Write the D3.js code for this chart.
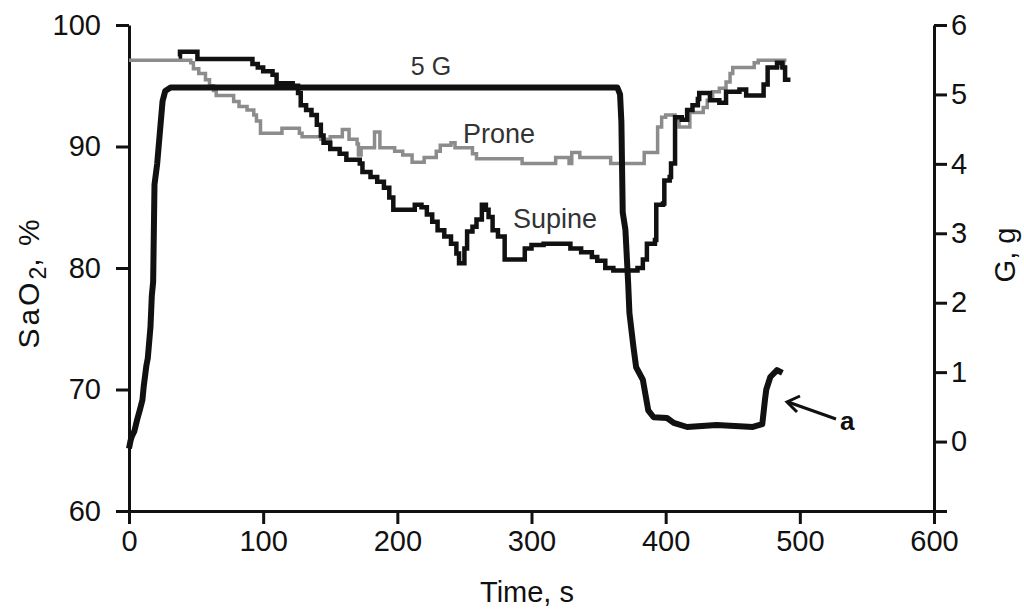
<!DOCTYPE html>
<html>
<head>
<meta charset="utf-8">
<script src="https://cdn.jsdelivr.net/npm/d3@7"></script>
<style>
  body { margin: 0; background: #fff; }
  svg { display: block; font-family: "Liberation Sans", Arial, sans-serif; }
  .axis path, .axis line { stroke: #111; stroke-width: 3; }
  .axis text { font-size: 29px; fill: #111; font-family: "Liberation Sans", Arial, sans-serif; }
</style>
</head>
<body>
<div class="chart"></div>
<script>
var svgWidth = 1024;
var svgHeight = 613;

var margin = { top: 25, right: 90, bottom: 102, left: 129 };
var width = svgWidth - margin.left - margin.right;
var height = svgHeight - margin.top - margin.bottom;

// G load (right axis), [time s, G]
var gTime = [0, 1, 2, 4, 6, 8, 10, 11, 13, 14, 16, 17, 18, 19, 21, 23, 25, 27, 31, 364, 366, 367, 368, 370, 372, 373, 376, 378, 383, 387, 391, 401, 406, 416, 438, 465, 472, 474, 475, 478, 483, 487];
var gValue = [-0.1, 0.0, 0.07, 0.15, 0.31, 0.45, 0.6, 0.8, 1.1, 1.2, 1.65, 2.1, 2.3, 3.7, 4.0, 4.45, 4.9, 5.05, 5.1, 5.1, 5.0, 4.6, 3.3, 3.05, 2.3, 1.85, 1.36, 1.07, 0.89, 0.45, 0.35, 0.34, 0.27, 0.21, 0.24, 0.21, 0.25, 0.6, 0.75, 0.93, 1.03, 0.99];

// SaO2 supine (left axis), step values
var supineTime = [37, 38, 51, 92, 96, 100, 107, 110, 122, 126, 128, 132, 136, 140, 143, 145, 150, 157, 162, 172, 174, 180, 185, 190, 194, 197, 213, 218, 222, 226, 230, 235, 240, 244, 246, 250, 252, 256, 259, 263, 266, 268, 271, 275, 280, 295, 300, 309, 329, 337, 345, 349, 355, 361, 379, 383, 386, 392, 393, 398, 399, 403, 404, 407, 412, 416, 420, 424, 425, 433, 440, 445, 455, 460, 473, 476, 483, 487, 489, 493];
var supineValue = [97.4, 97.8, 97.2, 96.8, 96.5, 96.2, 95.9, 95.2, 95.0, 94.4, 93.4, 93.0, 92.6, 91.8, 90.9, 90.3, 89.8, 89.4, 88.9, 88.6, 87.9, 87.5, 87.1, 86.6, 85.8, 84.8, 85.2, 85.0, 84.4, 83.8, 83.1, 82.6, 82.0, 81.2, 80.4, 81.6, 83.0, 83.4, 84.0, 85.2, 84.8, 84.2, 83.1, 82.6, 80.7, 81.6, 81.9, 82.0, 81.6, 81.3, 80.9, 80.6, 80.0, 79.8, 80.0, 80.7, 82.0, 82.3, 85.2, 85.3, 87.2, 87.5, 88.6, 92.4, 92.2, 93.0, 93.4, 93.9, 94.4, 93.8, 93.6, 94.5, 94.7, 94.2, 95.1, 96.5, 96.9, 96.5, 95.5, 95.5];

// SaO2 prone (left axis), step values
var proneTime = [0, 46, 48, 52, 57, 60, 63, 65, 78, 82, 88, 93, 95, 98, 114, 127, 129, 143, 150, 159, 164, 170, 171, 173, 183, 187, 198, 204, 211, 220, 229, 232, 240, 243, 256, 259, 293, 318, 328, 330, 336, 359, 384, 394, 397, 400, 407, 410, 418, 428, 431, 435, 440, 445, 448, 450, 466, 469, 486, 488, 490];
var proneValue = [97.1, 96.9, 96.4, 96.0, 95.5, 95.0, 94.6, 94.2, 93.7, 93.3, 93.0, 92.6, 92.1, 91.1, 91.5, 91.1, 90.8, 90.6, 90.8, 91.4, 90.6, 90.2, 89.3, 89.9, 91.2, 89.9, 89.6, 89.3, 88.7, 89.1, 89.6, 90.1, 90.3, 89.9, 89.4, 89.0, 88.6, 89.1, 88.6, 89.5, 89.1, 88.6, 89.5, 91.6, 92.4, 92.6, 92.2, 91.6, 92.8, 93.2, 93.8, 94.5, 94.8, 95.3, 96.0, 96.5, 96.9, 97.1, 96.6, 97.1, 97.1];

var xTicks = [0, 100, 200, 300, 400, 500, 600];
var yTicks = [60, 70, 80, 90, 100];
var gTicks = [-1, 0, 1, 2, 3, 4, 5, 6];

var svg = d3.select(".chart")
  .append("svg")
  .attr("width", svgWidth)
  .attr("height", svgHeight);

var chartGroup = svg.append("g")
  .attr("transform", `translate(${margin.left}, ${margin.top})`);

var xScale = d3.scaleLinear().domain([0, 600]).range([0, width]);
var yScale = d3.scaleLinear().domain([60, 100]).range([height, 0]);
var gScale = d3.scaleLinear().domain([-1, 6]).range([height, 0]);

// axes
var bottomAxis = d3.axisBottom(xScale).tickValues(xTicks).tickSize(13).tickPadding(6).tickSizeOuter(0);
var leftAxis = d3.axisLeft(yScale).tickValues(yTicks).tickSize(13).tickPadding(15).tickSizeOuter(0);
var rightAxis = d3.axisRight(gScale).tickValues(gTicks).tickSize(13).tickPadding(4).tickSizeOuter(0)
  .tickFormat(d => d < 0 ? "" : d);

chartGroup.append("g").classed("axis", true)
  .attr("transform", `translate(0, ${height})`)
  .call(bottomAxis);
chartGroup.append("g").classed("axis", true).call(leftAxis);
chartGroup.append("g").classed("axis", true)
  .attr("transform", `translate(${width}, 0)`)
  .call(rightAxis);

// series
var gData = gTime.map((t, i) => [t, gValue[i]]);
var supineData = supineTime.map((t, i) => [t, supineValue[i]]);
var proneData = proneTime.map((t, i) => [t, proneValue[i]]);

var stepLine = d3.line()
  .x(d => xScale(d[0]))
  .y(d => yScale(d[1]))
  .curve(d3.curveStepAfter);

var gLine = d3.line()
  .x(d => xScale(d[0]))
  .y(d => gScale(d[1]));

chartGroup.append("path")
  .datum(proneData)
  .attr("d", stepLine)
  .attr("fill", "none")
  .attr("stroke", "#8c8c8c")
  .attr("stroke-width", 3.5);

chartGroup.append("path")
  .datum(supineData)
  .attr("d", stepLine)
  .attr("fill", "none")
  .attr("stroke", "#111")
  .attr("stroke-width", 4.5);

chartGroup.append("path")
  .datum(gData)
  .attr("d", gLine)
  .attr("fill", "none")
  .attr("stroke", "#111")
  .attr("stroke-width", 6)
  .attr("stroke-linejoin", "round");

// annotations
svg.append("text").attr("x", 431).attr("y", 75)
  .attr("text-anchor", "middle").attr("font-size", 25).attr("fill", "#333")
  .text("5 G");
svg.append("text").attr("x", 463).attr("y", 143)
  .attr("font-size", 27).attr("fill", "#333")
  .text("Prone");
svg.append("text").attr("x", 513).attr("y", 228)
  .attr("font-size", 27).attr("fill", "#333")
  .text("Supine");
svg.append("text").attr("x", 840).attr("y", 430)
  .attr("font-family", "'Liberation Sans', Arial, sans-serif")
  .attr("font-size", 26).attr("font-weight", "bold").attr("fill", "#111")
  .text("a");

// arrow pointing at end of G curve
svg.append("line")
  .attr("x1", 836).attr("y1", 419).attr("x2", 788).attr("y2", 402)
  .attr("stroke", "#111").attr("stroke-width", 3);
svg.append("path")
  .attr("d", "M800,396 L787,402 L797,412")
  .attr("fill", "none").attr("stroke", "#111").attr("stroke-width", 3);

// axis titles
svg.append("text")
  .attr("x", 527).attr("y", 602)
  .attr("text-anchor", "middle").attr("font-size", 29).attr("fill", "#111")
  .text("Time, s");

var yTitle = svg.append("text")
  .attr("transform", "translate(39, 283) rotate(-90)")
  .attr("text-anchor", "middle").attr("font-size", 30).attr("fill", "#111");
yTitle.append("tspan").attr("letter-spacing", 3).text("SaO");
yTitle.append("tspan").attr("font-size", 23).attr("dy", 7).text("2");
yTitle.append("tspan").attr("dy", -7).attr("letter-spacing", 2).text(", %");

svg.append("text")
  .attr("transform", "translate(1015, 255) rotate(-90)")
  .attr("text-anchor", "middle").attr("font-size", 29).attr("fill", "#111")
  .text("G, g");
</script>
</body>
</html>
